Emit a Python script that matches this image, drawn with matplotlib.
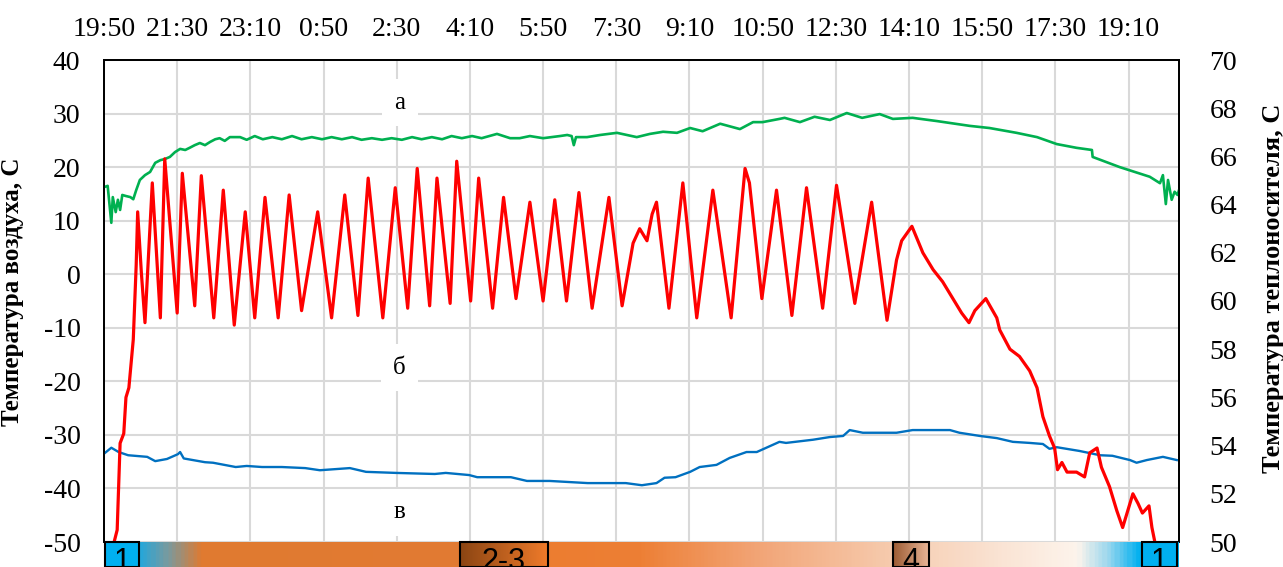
import numpy as np
import matplotlib.pyplot as plt
from matplotlib.colors import LinearSegmentedColormap
from matplotlib.patches import Rectangle

plt.rcParams['font.family'] = ['Liberation Serif', 'DejaVu Serif']
plt.rcParams['axes.unicode_minus'] = False

# время, мин от 19:50
time_labels = ["19:50", "21:30", "23:10", "0:50", "2:30", "4:10", "5:50", "7:30",
               "9:10", "10:50", "12:30", "14:10", "15:50", "17:30", "19:10"]
t_end = 1469

# а - температура воздуха (зелёная), С
green_t = [1, 5, 10, 12, 16, 19, 22, 25, 30, 36, 40, 44, 49, 56, 63, 70, 77, 83, 90, 97,
           104, 111, 117, 124, 131, 138, 145, 152, 158, 165, 172, 186, 195, 206, 217, 230,
           243, 257, 270, 284, 298, 311, 325, 339, 352, 366, 380, 393, 407, 421, 434, 448,
           462, 475, 489, 503, 516, 537, 555, 568, 582, 600, 623, 633, 639, 642, 645, 660,
           678, 701, 728, 746, 764, 783, 801, 818, 842, 869, 887, 900, 923, 930, 951, 971,
           992, 1015, 1036, 1060, 1078, 1105, 1138, 1183, 1210, 1247, 1275, 1302, 1329,
           1350, 1351, 1388, 1429, 1443, 1447, 1451, 1454, 1459, 1463, 1467, 1469]
green_v = [16.3, 16.5, 9.6, 14.4, 11.6, 13.9, 12.0, 14.8, 14.6, 14.4, 14.0, 15.7, 17.6,
           18.5, 19.1, 20.8, 21.3, 21.5, 21.9, 22.8, 23.4, 23.2, 23.6, 24.1, 24.5, 24.1,
           24.7, 25.2, 25.4, 24.9, 25.6, 25.6, 25.1, 25.8, 25.2, 25.6, 25.2, 25.8, 25.2,
           25.6, 25.2, 25.6, 25.2, 25.6, 25.1, 25.4, 25.1, 25.4, 25.1, 25.6, 25.2, 25.6,
           25.2, 25.8, 25.4, 25.8, 25.4, 26.2, 25.4, 25.4, 25.8, 25.4, 25.8, 26.0, 25.8,
           24.1, 25.6, 25.6, 26.0, 26.4, 25.6, 26.2, 26.6, 26.4, 27.3, 26.7, 28.1, 27.1,
           28.4, 28.4, 29.0, 29.2, 28.4, 29.4, 28.8, 30.1, 29.2, 29.9, 29.0, 29.2, 28.6,
           27.7, 27.3, 26.4, 25.6, 24.3, 23.6, 23.2, 21.9, 20.0, 18.2, 17.0, 18.5, 13.1,
           17.6, 13.9, 15.4, 14.8, 15.7]

# б - температура теплоносителя (красная), С
red_t = [8, 18, 22, 27, 30, 34, 37, 40, 44, 46, 51, 56, 66, 77, 83, 100, 107, 124, 133,
         150, 163, 178, 193, 206, 220, 238, 253, 270, 292, 311, 329, 347, 361, 381, 398,
         415, 428, 445, 455, 473, 482, 501, 512, 531, 546, 563, 582, 600, 616, 632, 649,
         667, 690, 708, 723, 732, 742, 749, 755, 772, 791, 810, 832, 857, 876, 882, 899,
         919, 940, 960, 982, 1001, 1026, 1049, 1070, 1083, 1090, 1104, 1119, 1133, 1146,
         1160, 1172, 1182, 1190, 1205, 1220, 1224, 1238, 1251, 1265, 1275, 1283, 1292,
         1299, 1303, 1309, 1316, 1329, 1340, 1347, 1357, 1363, 1374, 1384, 1392, 1399,
         1406, 1413, 1419, 1428, 1432, 1436, 1440]
red_v = [49.3, 50.5, 54.1, 54.5, 56.0, 56.4, 57.4, 58.4, 61.5, 63.7, 61.2, 59.1, 64.9,
         59.3, 65.9, 59.5, 65.3, 59.8, 65.2, 59.3, 64.6, 59.0, 63.7, 59.3, 64.3, 59.3,
         64.4, 59.6, 63.7, 59.3, 64.4, 59.4, 65.1, 59.3, 64.7, 59.7, 65.5, 59.8, 65.1,
         59.9, 65.8, 60.0, 65.1, 59.7, 64.3, 60.1, 64.1, 60.0, 64.2, 60.0, 64.5, 59.7,
         64.3, 59.8, 62.4, 63.0, 62.5, 63.6, 64.1, 59.7, 64.9, 59.3, 64.6, 59.3, 65.5,
         64.9, 60.1, 64.6, 59.4, 64.7, 59.7, 64.8, 59.9, 64.1, 59.2, 61.7, 62.5, 63.1,
         62.0, 61.3, 60.8, 60.1, 59.5, 59.1, 59.6, 60.1, 59.3, 58.8, 58.0, 57.7, 57.1,
         56.4, 55.2, 54.4, 53.9, 53.0, 53.3, 52.9, 52.9, 52.7, 53.7, 53.9, 53.1, 52.3,
         51.3, 50.6, 51.3, 52.0, 51.6, 51.2, 51.5, 50.6, 50.0, 49.5]

# в - наружная температура (синяя), С
blue_t = [1, 10, 20, 33, 59, 70, 86, 101, 104, 109, 138, 149, 180, 195, 216, 243, 275,
          295, 336, 358, 399, 452, 467, 499, 510, 556, 578, 609, 661, 687, 713, 735, 755,
          766, 781, 801, 814, 837, 855, 878, 892, 923, 932, 969, 992, 1010, 1019, 1037,
          1060, 1083, 1105, 1128, 1156, 1169, 1197, 1220, 1242, 1265, 1283, 1292, 1302,
          1333, 1361, 1378, 1402, 1411, 1425, 1447, 1466]
blue_v = [-33.4, -32.4, -33.2, -33.8, -34.1, -34.9, -34.5, -33.6, -33.2, -34.4, -35.1,
          -35.2, -36.0, -35.8, -36.0, -36.0, -36.2, -36.6, -36.2, -36.9, -37.1, -37.3,
          -37.1, -37.5, -37.9, -37.9, -38.6, -38.6, -39.0, -39.0, -39.0, -39.4, -39.0,
          -38.0, -37.9, -36.9, -36.0, -35.6, -34.3, -33.2, -33.2, -31.3, -31.5, -30.9,
          -30.4, -30.2, -29.1, -29.6, -29.6, -29.6, -29.1, -29.1, -29.1, -29.6, -30.2,
          -30.6, -31.3, -31.5, -31.7, -32.6, -32.3, -33.0, -33.8, -33.9, -34.7, -35.2,
          -34.7, -34.1, -34.7]

# режимы (полоса снизу)
phase_labels = ["1", "2-3", "4", "1"]
phase_start = [1, 486, 1078, 1418]
phase_end = [48, 607, 1128, 1466]

fig = plt.figure(figsize=(12.83, 5.67), dpi=100)
ax = fig.add_axes([104 / 1283, 25 / 567, 1075 / 1283, 482 / 567])
ax2 = ax.twinx()

ax.plot(blue_t, blue_v, color='#0070C0', lw=1.7, zorder=3)
ax.plot(green_t, green_v, color='#00B050', lw=1.9, zorder=3)
ax2.plot(red_t, red_v, color='#FF0000', lw=2.3)

ax.set_xlim(0, t_end)
ax.set_ylim(-50, 40)
ax2.set_ylim(50, 70)
ax.set_yticks(np.arange(-50, 41, 10))
ax2.set_yticks(np.arange(50, 71, 2))
ax.set_xticks(np.arange(0, 1401, 100))
ax.set_xticklabels(time_labels)
ax.xaxis.tick_top()

ax.grid(color='#D9D9D9', lw=1.5)
ax.set_axisbelow(True)
ax.tick_params(axis='both', length=0, labelsize=20)
ax.tick_params(axis='x', pad=13)
ax.tick_params(axis='y', pad=17)
ax2.tick_params(axis='y', length=0, labelsize=20, pad=22)
for a in (ax, ax2):
    a.spines['bottom'].set_visible(False)
    for s in ('left', 'top', 'right'):
        a.spines[s].set_linewidth(1.3)
        a.spines[s].set_color('black')

ax.set_ylabel("Температура воздуха, С", fontsize=18, fontweight='bold')
ax.yaxis.set_label_coords(-0.074, 0.519)
ax2.set_ylabel("Температура теплоносителя, С", fontsize=19, fontweight='bold')
ax2.yaxis.set_label_coords(1.077, 0.527)

lbl_box = dict(facecolor='white', edgecolor='none', pad=9)
ax.text(404, 32.0, "а", fontsize=18, ha='center', va='center', bbox=lbl_box, zorder=4)
ax.text(404, -17.5, "б", fontsize=18, ha='center', va='center', bbox=lbl_box, zorder=4)
ax.text(404, -44.4, "в", fontsize=18, ha='center', va='center', bbox=lbl_box, zorder=4)

# цветная полоса режимов
bar = fig.add_axes([104 / 1283, 0, 1075 / 1283, 25 / 567])
bar.axis('off')
stops = [(0.0, '#00B0F0'), (0.033, '#2BA6D6'), (0.057, '#7A9A9E'), (0.089, '#E07A30'),
         (0.331, '#E27B33'), (0.413, '#EC7D30'), (0.499, '#ED7F35'), (0.610, '#F2A577'),
         (0.727, '#F6C9AB'), (0.833, '#FAE3D3'), (0.908, '#FDF4EC'), (0.936, '#9ED8EE'),
         (0.966, '#00B0F0'), (1.0, '#00B0F0')]
cmap = LinearSegmentedColormap.from_list('modes', stops)
grad = np.linspace(0, 1, 600).reshape(1, -1)
bar.imshow(grad, cmap=cmap, aspect='auto', extent=[0, t_end, 0, 1])

box_cmaps = [LinearSegmentedColormap.from_list('b1', ['#00B0F0', '#00B0F0']),
             LinearSegmentedColormap.from_list('b23', ['#8B4513', '#F07B2A']),
             LinearSegmentedColormap.from_list('b4', ['#9C5B33', '#EBB899']),
             LinearSegmentedColormap.from_list('b1', ['#00B0F0', '#00B0F0'])]
for lab, x0, x1, cm in zip(phase_labels, phase_start, phase_end, box_cmaps):
    bar.imshow(grad, cmap=cm, aspect='auto', extent=[x0, x1, 0, 1], zorder=2)
    bar.add_patch(Rectangle((x0, 0), x1 - x0, 1, fill=False, ec='black', lw=1.5,
                            zorder=3, clip_on=False))
    bar.text((x0 + x1) / 2, -0.1, lab, fontsize=22, family='Liberation Sans',
             ha='center', va='baseline', zorder=4)
bar.set_xlim(0, t_end)
bar.set_ylim(0, 1)

fig.savefig('out.png', dpi=100)
